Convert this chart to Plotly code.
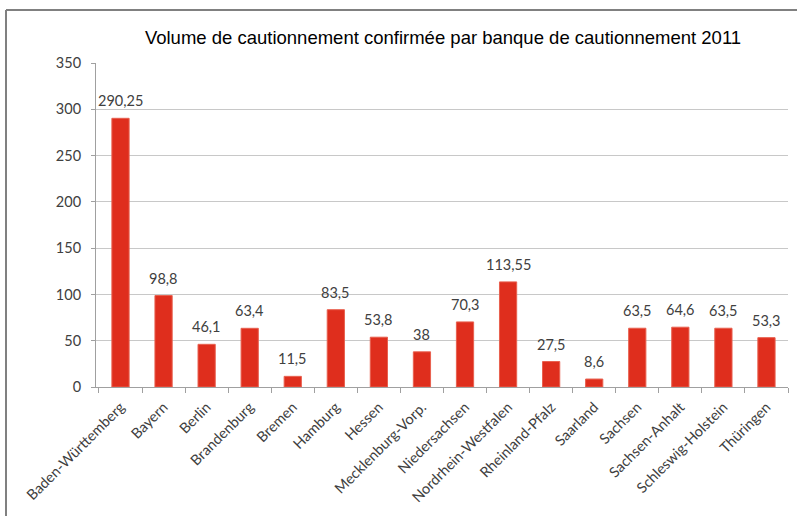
import plotly.graph_objects as go

categories = ["Baden-Württemberg", "Bayern", "Berlin", "Brandenburg", "Bremen", "Hamburg",
              "Hessen", "Mecklenburg-Vorp.", "Niedersachsen", "Nordrhein-Westfalen",
              "Rheinland-Pfalz", "Saarland", "Sachsen", "Sachsen-Anhalt",
              "Schleswig-Holstein", "Thüringen"]
values = [290.25, 98.8, 46.1, 63.4, 11.5, 83.5, 53.8, 38, 70.3, 113.55, 27.5, 8.6, 63.5, 64.6, 63.5, 53.3]
title = "Volume de cautionnement confirmée par banque de cautionnement 2011"

labels = [f"{v:g}".replace(".", ",") for v in values]

fig = go.Figure(go.Bar(
    x=categories, y=values,
    marker=dict(color="#DF2E1D", line=dict(color="#E8604F", width=1)),
    cliponaxis=False,
))

for c, v, t in zip(categories, values, labels):
    fig.add_annotation(x=c, y=v, text=t, showarrow=False, yanchor="bottom", yshift=7,
                       font=dict(family="Lato", size=14.5, color="#404040"))

fig.update_layout(
    width=797, height=516,
    margin=dict(l=96, r=9, t=63, b=129),
    paper_bgcolor="white", plot_bgcolor="white",
    bargap=0.6,
    showlegend=False,
    title=dict(text=title, x=443/797, xanchor="center", y=1 - 38/516, yanchor="middle",
               font=dict(family="Liberation Sans", size=18.5, color="black")),
    xaxis=dict(tickangle=-45, tickson="boundaries", ticks="outside", ticklen=5,
               tickcolor="#a0a0a0", showline=True, linecolor="#a0a0a0", linewidth=1,
               ticklabelstandoff=5,
               tickfont=dict(family="Lato", size=14.5, color="#404040"), showgrid=False),
    yaxis=dict(range=[0, 350], dtick=50, ticks="outside", ticklen=4, tickcolor="#a0a0a0",
               showline=True, linecolor="#a0a0a0", linewidth=1, ticklabelstandoff=7,
               showgrid=True, gridcolor="#c8c8c8", gridwidth=1, zeroline=False,
               tickfont=dict(family="Lato", size=14.5, color="#404040")),
    shapes=[
        dict(type="line", xref="paper", yref="paper", x0=-90/692, x1=1 + 9/692,
             y0=1 + 53/324, y1=1 + 53/324, line=dict(color="#808080", width=2)),
        dict(type="line", xref="paper", yref="paper", x0=-90/692, x1=-90/692,
             y0=1 + 53/324, y1=-129/324, line=dict(color="#808080", width=2)),
    ],
)

fig.write_html("out.html", config={"displayModeBar": False},
               post_script="document.body.style.margin='0';")
